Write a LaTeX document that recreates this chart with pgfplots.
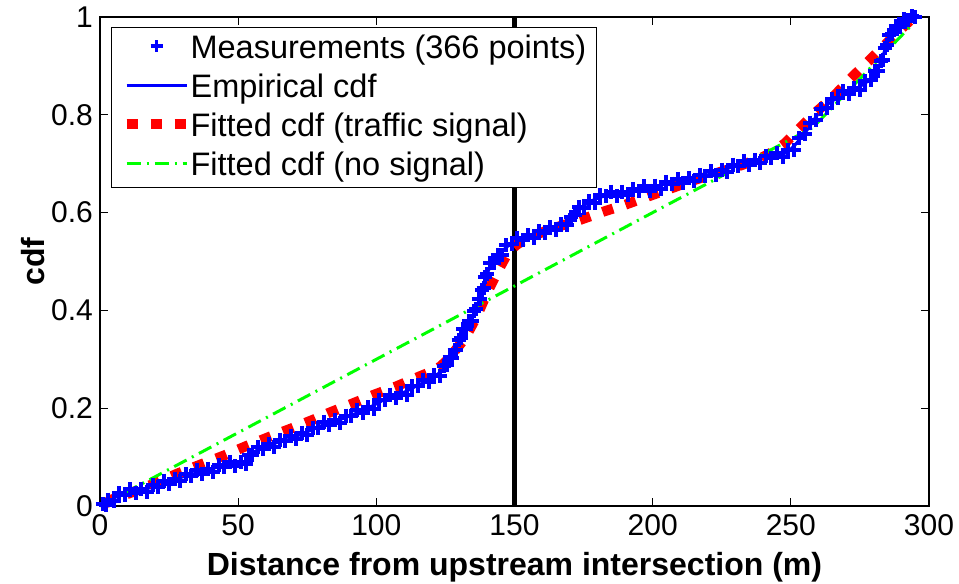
\documentclass[border=0pt]{standalone}
\usepackage{fontspec}
\setmainfont{Liberation Sans}
\usepackage{pgfplots}
\pgfplotsset{compat=1.18}
\definecolor{mblue}{rgb}{0,0,1}
\definecolor{mred}{rgb}{1,0,0}
\definecolor{mgreen}{rgb}{0,1,0}
\begin{document}
\begin{tikzpicture}
\useasboundingbox (-100bp,-78bp) rectangle (859bp,506bp);
\begin{axis}[
  at={(0,0)}, anchor=south west,
  scale only axis, width=829bp, height=489bp,
  xmin=0, xmax=300, ymin=0, ymax=1,
  clip=false,
  xtick={0,50,100,150,200,250,300},
  ytick={0,0.2,0.4,0.6,0.8,1},
  yticklabels={0,0.2,0.4,0.6,0.8,1},
  xtick pos=both, ytick pos=both,
  tick align=inside,
  major tick length=8bp,
  axis line style={line width=1.3bp},
  every tick/.style={black, line width=1bp},
  /pgf/number format/assume math mode=true,
  tick label style={font=\fontsize{30bp}{36bp}\selectfont},
  xticklabel style={inner sep=8bp},
  yticklabel style={inner sep=7bp},
  xlabel={\textbf{Distance from upstream intersection (m)}},
  ylabel={\textbf{cdf}},
  label style={font=\fontsize{32bp}{38bp}\selectfont},
  xlabel style={at={(axis description cs:0.5,0)}, anchor=base, yshift=-69bp},
  ylabel style={at={(axis description cs:-0.081,0.5)}, anchor=center},
  legend style={at={(axis description cs:0,1)}, anchor=north west,
    xshift=11bp, yshift=-10bp, draw=black, line width=1.2bp,
    font=\fontsize{32.5bp}{39bp}\selectfont,
    inner xsep=10bp, inner ysep=2bp, row sep=0bp,
    nodes={inner sep=0pt, text height=29bp, text depth=10bp},
    column sep=-1bp},
  legend cell align=left,
  legend image code/.code={%
    \draw[mark repeat=2, mark phase=2, #1] plot coordinates {(2bp,3bp) (32bp,3bp) (62bp,3bp)};},
]
\addplot[black, line width=4.5bp, forget plot] coordinates {(150,0) (150,1)};

\addlegendimage{mblue, only marks, draw opacity=0, line width=0.01bp, mark=+, mark size=6bp, mark options={draw=mblue, draw opacity=1, solid, line width=3.5bp}}
\addlegendentry{Measurements (366 points)}

\addplot[only marks, mark=+, mark size=7bp, mblue, mark options={line width=4bp}, forget plot] coordinates {
(1,0.004) (2,0.003) (3,0.013) (5,0.011) (7,0.026) (9,0.023)
(11,0.034) (13,0.026) (15,0.035) (17,0.029) (19,0.042) (21,0.039)
(23,0.052) (25,0.045) (27,0.056) (29,0.051) (31,0.065) (33,0.062)
(35,0.074) (37,0.066) (39,0.076) (41,0.070) (43,0.084) (45,0.080)
(47,0.090) (49,0.081) (51,0.089) (53,0.086) (54,0.104) (55,0.105)
(57,0.121) (59,0.116) (61,0.127) (63,0.121) (65,0.135) (67,0.132)
(69,0.143) (71,0.137) (73,0.150) (75,0.145) (77,0.160) (79,0.160)
(81,0.172) (83,0.165) (85,0.175) (87,0.170) (89,0.185) (91,0.184)
(93,0.196) (95,0.190) (97,0.202) (99,0.199) (101,0.216) (103,0.216)
(105,0.228) (107,0.221) (109,0.232) (111,0.228) (113,0.245) (115,0.245)
(117,0.258) (119,0.253) (121,0.267) (123,0.266) (124.5,0.286) (125.5,0.288)
(126.5,0.304) (127.5,0.302) (128.3,0.318) (129,0.319) (129.8,0.340) (130.6,0.344)
(131.5,0.362) (132.5,0.361) (133.5,0.378) (134.5,0.378) (135.4,0.398) (136.2,0.403)
(137,0.423) (137.6,0.423) (138.2,0.442) (138.8,0.445) (139.4,0.468) (140.2,0.474)
(141.2,0.496) (142.5,0.496) (144,0.514) (145.5,0.514) (147,0.533) (149,0.535)
(151,0.549) (153,0.543) (155,0.554) (157,0.548) (159,0.562) (161,0.559)
(163,0.571) (165,0.564) (167,0.576) (169,0.574) (170.5,0.592) (172,0.595)
(173.5,0.612) (175,0.609) (177,0.623) (179,0.620) (181,0.635) (183,0.633)
(185,0.643) (187,0.634) (189,0.643) (191,0.635) (193,0.648) (195,0.644)
(197,0.654) (199,0.645) (201,0.655) (203,0.649) (205,0.663) (207,0.659)
(209,0.669) (211,0.661) (213,0.670) (215,0.664) (217,0.677) (219,0.674)
(221,0.685) (223,0.677) (225,0.688) (227,0.683) (229,0.698) (231,0.695)
(233,0.706) (235,0.698) (237,0.708) (239,0.702) (241,0.716) (243,0.712)
(245,0.722) (247,0.714) (249,0.727) (251,0.728) (253,0.752) (255,0.760)
(257,0.784) (259,0.790) (261,0.812) (263,0.813) (265,0.832) (267,0.834)
(269,0.848) (271,0.842) (273,0.854) (275,0.851) (277,0.869) (279,0.872)
(280.5,0.890) (281.5,0.890) (282.5,0.909) (283.3,0.913) (284,0.936) (284.8,0.943)
(285.6,0.964) (286.6,0.965) (288,0.982) (289.5,0.980) (291,0.996) (292.5,0.994) (294,1.002) (295,1.0)
};

\addplot[mblue, line width=3bp, no markers] coordinates {
(1,0.003) (2,0.008) (3,0.011) (5,0.016) (7,0.022) (9,0.025) (11,0.028) (13,0.031) (15,0.033) (17,0.036)
(19,0.038) (21,0.041) (23,0.046) (25,0.050) (27,0.054) (29,0.058) (31,0.061) (33,0.064) (35,0.068) (37,0.071)
(39,0.074) (41,0.077) (43,0.080) (45,0.082) (47,0.084) (49,0.086) (51,0.087) (53,0.093) (54,0.100) (55,0.107)
(57,0.115) (59,0.121) (61,0.125) (63,0.128) (65,0.131) (67,0.134) (69,0.137) (71,0.142) (73,0.148) (75,0.152)
(77,0.156) (79,0.162) (81,0.166) (83,0.170) (85,0.173) (87,0.177) (89,0.181) (91,0.186) (93,0.190) (95,0.195)
(97,0.200) (99,0.206) (101,0.212) (103,0.218) (105,0.222) (107,0.226) (109,0.230) (111,0.235) (113,0.241) (115,0.247)
(117,0.252) (119,0.258) (121,0.265) (123,0.273) (124.5,0.282) (125.5,0.290) (126.5,0.298) (127.5,0.307) (128.3,0.316) (129,0.326)
(129.8,0.336) (130.6,0.346) (131.5,0.356) (132.5,0.366) (133.5,0.376) (134.5,0.385) (135.4,0.394) (136.2,0.405) (137,0.417) (137.6,0.428)
(138.2,0.440) (138.8,0.452) (139.4,0.464) (140.2,0.476) (141.2,0.490) (142.5,0.501) (144,0.512) (145.5,0.521) (147,0.529) (149,0.537)
(151,0.543) (153,0.548) (155,0.552) (157,0.555) (159,0.558) (161,0.561) (163,0.565) (165,0.569) (167,0.574) (169,0.581)
(170.5,0.588) (172,0.597) (173.5,0.606) (175,0.614) (177,0.621) (179,0.627) (181,0.631) (183,0.635) (185,0.637) (187,0.639)
(189,0.641) (191,0.642) (193,0.644) (195,0.646) (197,0.648) (199,0.650) (201,0.653) (203,0.656) (205,0.659) (207,0.661)
(209,0.663) (211,0.666) (213,0.668) (215,0.671) (217,0.673) (219,0.676) (221,0.679) (223,0.682) (225,0.686) (227,0.690)
(229,0.694) (231,0.697) (233,0.700) (235,0.703) (237,0.706) (239,0.709) (241,0.712) (243,0.714) (245,0.716) (247,0.719)
(249,0.725) (251,0.735) (253,0.748) (255,0.762) (257,0.778) (259,0.795) (261,0.810) (263,0.820) (265,0.828) (267,0.836)
(269,0.842) (271,0.847) (273,0.852) (275,0.858) (277,0.865) (279,0.874) (280.5,0.884) (281.5,0.895) (282.5,0.907) (283.3,0.920)
(284,0.932) (284.8,0.945) (285.6,0.958) (286.6,0.970) (288,0.980) (289.5,0.987) (291,0.992) (292.5,0.996) (294,0.998) (295,1.0)
};
\addlegendentry{Empirical cdf}

\addplot[mred, line width=10bp, dash pattern=on 11bp off 13bp, no markers] coordinates {
(2,0.004) (3.6,0.012) (12.1,0.029) (20.5,0.048) (28.3,0.067) (37.4,0.087) (45.2,0.104) (53.1,0.123) (61.5,0.142) (69.4,0.159)
(77.8,0.178) (82.6,0.19) (91.1,0.209) (98.9,0.227) (107.4,0.245) (115.2,0.264) (120,0.275) (123.1,0.285) (126,0.300) (129.1,0.322)
(132.1,0.343) (136.3,0.387) (140,0.435) (143.6,0.476) (147.8,0.520) (151,0.535) (155,0.549) (164,0.568) (173.7,0.585) (182.2,0.602)
(190,0.616) (198.4,0.633) (206.9,0.650) (215.3,0.667) (223.8,0.682) (232.2,0.697) (240,0.714) (244,0.726) (247.9,0.742) (254,0.777)
(259,0.805) (265.4,0.837) (271.4,0.873) (278,0.909) (284.1,0.943) (290.2,0.977) (293,0.992)
};
\addlegendentry{Fitted cdf (traffic signal)}

\addplot[mgreen, line width=3bp, dash pattern=on 14bp off 6bp on 2bp off 6bp, no markers] coordinates {
(0,0) (258,0.774) (294,0.985)
};
\addlegendentry{Fitted cdf (no signal)}
\end{axis}
\end{tikzpicture}
\end{document}
